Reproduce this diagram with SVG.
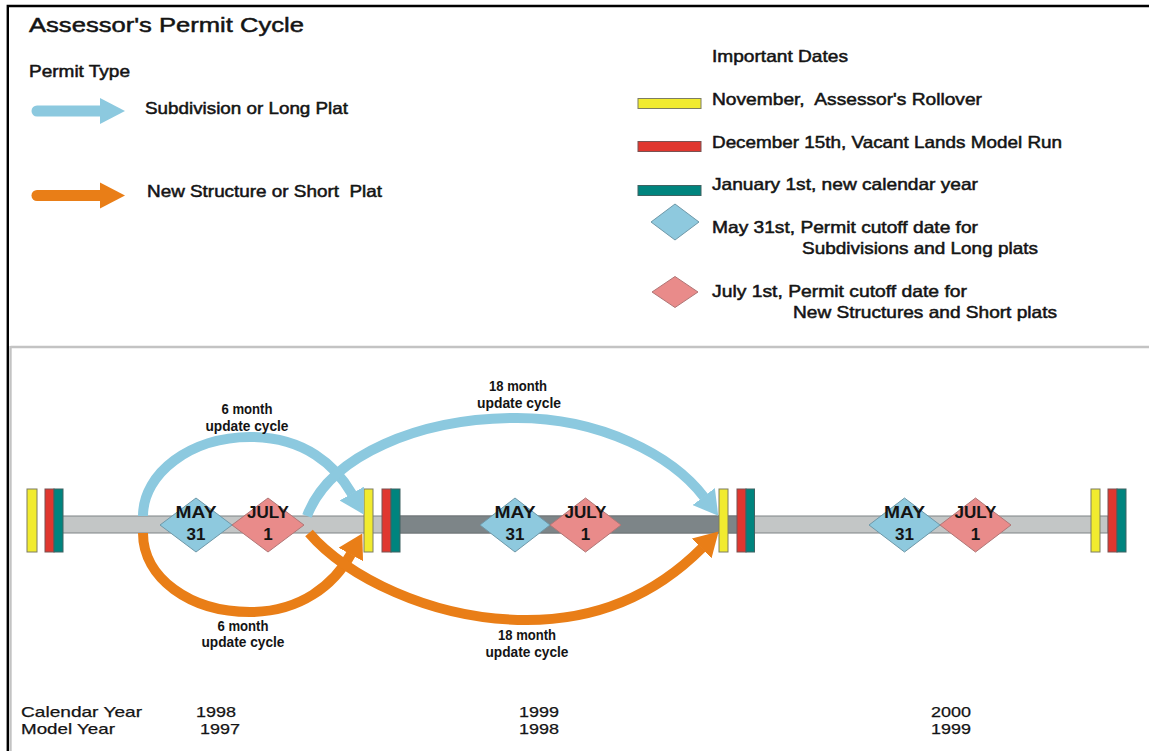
<svg xmlns="http://www.w3.org/2000/svg" width="1149" height="751" viewBox="0 0 1149 751">
<defs>
<style>
text { font-family: "Liberation Sans", Arial, sans-serif; fill: #141414; }
.title { font-size: 21px; font-weight: normal; stroke: #141414; stroke-width: 0.5; }
.t { font-size: 16.5px; font-weight: normal; stroke: #141414; stroke-width: 0.5; }
.lbl { font-size: 14px; font-weight: bold; text-anchor: middle; }
.dl { font-size: 17px; font-weight: bold; text-anchor: middle; }
.yr { font-size: 15px; font-weight: normal; stroke: #141414; stroke-width: 0.25; }
.yel { fill: #f1eb2f; stroke: #7d7d62; stroke-width: 1; }
.red { fill: #e0372f; stroke: #7a5252; stroke-width: 1; }
.teal { fill: #00847e; stroke: #3f6262; stroke-width: 1; }
.dblue { fill: #8ec9de; stroke: #6e98a8; stroke-width: 1; }
.dpink { fill: #e98b8a; stroke: #b07676; stroke-width: 1; }
.arc-b { fill: none; stroke: #8cc9df; stroke-width: 10; }
.arc-o { fill: none; stroke: #e97e17; stroke-width: 10; }
.frame-k { fill: none; stroke: #000; stroke-width: 2.4; }
.frame-g { fill: none; stroke: #c3c3c3; stroke-width: 2.4; }
</style>
<marker id="hb" markerUnits="userSpaceOnUse" markerWidth="24" markerHeight="28" viewBox="0 0 24 28" refX="0.5" refY="14" orient="auto">
<path d="M0,0 L24,14 L0,28 z" fill="#8cc9df"/>
</marker>
<marker id="ho" markerUnits="userSpaceOnUse" markerWidth="24" markerHeight="28" viewBox="0 0 24 28" refX="0.5" refY="14" orient="auto">
<path d="M0,0 L24,14 L0,28 z" fill="#e97e17"/>
</marker>
</defs>

<rect x="0" y="0" width="1149" height="751" fill="#ffffff"/>

<g id="frame">
<path class="frame-k" d="M7.8,6 H1149 M7.8,4.8 V751"/>
<path class="frame-g" d="M10.5,347 H1149 M10.5,346 V751"/>
</g>

<g id="title">
<text class="title" x="29" y="31.5" textLength="275" lengthAdjust="spacingAndGlyphs">Assessor's Permit Cycle</text>
</g>

<g id="legend-permit-type">
<text class="t" x="29" y="77" textLength="101" lengthAdjust="spacingAndGlyphs">Permit Type</text>
<g id="legend-long-plat">
<line x1="37" y1="111" x2="102" y2="111" stroke="#8cc9df" stroke-width="11" stroke-linecap="round"/>
<polygon points="100,98 125,111 100,124" fill="#8cc9df"/>
<text class="t" x="145" y="114" textLength="203" lengthAdjust="spacingAndGlyphs">Subdivision or Long Plat</text>
</g>
<g id="legend-short-plat">
<line x1="37" y1="195.5" x2="102" y2="195.5" stroke="#e97e17" stroke-width="11" stroke-linecap="round"/>
<polygon points="100,182.5 125,195.5 100,208.5" fill="#e97e17"/>
<text class="t" x="147" y="197" textLength="235" lengthAdjust="spacingAndGlyphs" xml:space="preserve">New Structure or Short  Plat</text>
</g>
</g>

<g id="legend-dates">
<text class="t" x="712" y="62" textLength="136" lengthAdjust="spacingAndGlyphs">Important Dates</text>
<g id="legend-rollover">
<rect class="yel" x="638" y="98.5" width="63" height="10"/>
<text class="t" x="712" y="105" textLength="270" lengthAdjust="spacingAndGlyphs" xml:space="preserve">November,  Assessor's Rollover</text>
</g>
<g id="legend-model-run">
<rect class="red" x="638" y="141.5" width="63" height="10"/>
<text class="t" x="712" y="148" textLength="350" lengthAdjust="spacingAndGlyphs">December 15th, Vacant Lands Model Run</text>
</g>
<g id="legend-new-year">
<rect class="teal" x="638" y="185.5" width="63" height="10"/>
<text class="t" x="712" y="190" textLength="266" lengthAdjust="spacingAndGlyphs">January 1st, new calendar year</text>
</g>
<g id="legend-may31">
<polygon class="dblue" points="651,222 675,204 699,222 675,240"/>
<text class="t" x="712" y="233" textLength="266" lengthAdjust="spacingAndGlyphs">May 31st, Permit cutoff date for</text>
<text class="t" x="802" y="254" textLength="236" lengthAdjust="spacingAndGlyphs">Subdivisions and Long plats</text>
</g>
<g id="legend-july1">
<polygon class="dpink" points="652,292 675,276.5 698,292 675,307.5"/>
<text class="t" x="712" y="297" textLength="255" lengthAdjust="spacingAndGlyphs">July 1st, Permit cutoff date for</text>
<text class="t" x="793" y="318" textLength="264" lengthAdjust="spacingAndGlyphs">New Structures and Short plats</text>
</g>
</g>

<g id="timeline">
<rect x="62" y="516" width="1046" height="17" fill="#c3c6c6" stroke="#7f8486" stroke-width="1"/>
<rect x="395" y="516" width="345" height="17" fill="#7d8588" stroke="#6e7477" stroke-width="1"/>
</g>

<g id="cutoffs-1998">
<polygon class="dblue" points="160,525 196,498 232,525 196,552"/>
<polygon class="dpink" points="232,525 268,498 304,525 268,552"/>
<text class="dl" x="196" y="518" textLength="41" lengthAdjust="spacingAndGlyphs">MAY</text>
<text class="dl" x="196" y="540">31</text>
<text class="dl" x="268" y="518" textLength="42" lengthAdjust="spacingAndGlyphs">JULY</text>
<text class="dl" x="268" y="540">1</text>
</g>
<g id="cutoffs-1999">
<polygon class="dblue" points="480,525 515,498 550,525 515,552"/>
<polygon class="dpink" points="550,525 585.5,498 621,525 585.5,552"/>
<text class="dl" x="515" y="518" textLength="41" lengthAdjust="spacingAndGlyphs">MAY</text>
<text class="dl" x="515" y="540">31</text>
<text class="dl" x="585.5" y="518" textLength="42" lengthAdjust="spacingAndGlyphs">JULY</text>
<text class="dl" x="585.5" y="540">1</text>
</g>
<g id="cutoffs-2000">
<polygon class="dblue" points="869,525 904.5,498 940,525 904.5,552"/>
<polygon class="dpink" points="940,525 975.5,498 1011,525 975.5,552"/>
<text class="dl" x="904.5" y="518" textLength="41" lengthAdjust="spacingAndGlyphs">MAY</text>
<text class="dl" x="904.5" y="540">31</text>
<text class="dl" x="975.5" y="518" textLength="42" lengthAdjust="spacingAndGlyphs">JULY</text>
<text class="dl" x="975.5" y="540">1</text>
</g>

<g id="marks-1997">
<rect class="yel" x="27" y="489" width="10" height="63"/>
<rect class="red" x="45" y="489" width="9" height="63"/>
<rect class="teal" x="54" y="489" width="9" height="63"/>
</g>
<g id="marks-1998">
<rect class="yel" x="364" y="489" width="9" height="63"/>
<rect class="red" x="382" y="489" width="9" height="63"/>
<rect class="teal" x="391" y="489" width="9" height="63"/>
</g>
<g id="marks-1999">
<rect class="yel" x="719" y="489" width="9" height="63"/>
<rect class="red" x="737" y="489" width="9" height="63"/>
<rect class="teal" x="746" y="489" width="8.5" height="63"/>
</g>
<g id="marks-2000">
<rect class="yel" x="1091" y="489" width="9" height="63"/>
<rect class="red" x="1108" y="489" width="9" height="63"/>
<rect class="teal" x="1117" y="489" width="9" height="63"/>
</g>

<g id="connectors">
<path class="arc-b" marker-end="url(#hb)" d="M143,516 C143,473 191,437 250,437 C305,437 336,466 352,494"/>
<path class="arc-b" marker-end="url(#hb)" d="M307,516 C330,455 420,418 517,418 C600,418 672,455 704,497"/>
<path class="arc-o" marker-end="url(#ho)" d="M143,533 C143,578 190,612 250,612 C300,612 334,585 351,554"/>
<path class="arc-o" marker-end="url(#ho)" d="M309,533 C345,575 430,620 527,620 C610,620 665,585 702,548"/>
</g>

<g id="connector-labels">
<text class="lbl" x="247" y="414" textLength="51" lengthAdjust="spacingAndGlyphs">6 month</text>
<text class="lbl" x="247" y="431" textLength="83" lengthAdjust="spacingAndGlyphs">update cycle</text>
<text class="lbl" x="518" y="391" textLength="58" lengthAdjust="spacingAndGlyphs">18 month</text>
<text class="lbl" x="519" y="408" textLength="84" lengthAdjust="spacingAndGlyphs">update cycle</text>
<text class="lbl" x="243" y="631" textLength="51" lengthAdjust="spacingAndGlyphs">6 month</text>
<text class="lbl" x="243" y="647" textLength="83" lengthAdjust="spacingAndGlyphs">update cycle</text>
<text class="lbl" x="527" y="640" textLength="58" lengthAdjust="spacingAndGlyphs">18 month</text>
<text class="lbl" x="527" y="657" textLength="83" lengthAdjust="spacingAndGlyphs">update cycle</text>
</g>

<g id="years">
<text class="yr" x="21" y="717" textLength="121" lengthAdjust="spacingAndGlyphs">Calendar Year</text>
<text class="yr" x="21" y="734" textLength="94" lengthAdjust="spacingAndGlyphs">Model Year</text>
<text class="yr" x="196" y="717" textLength="40" lengthAdjust="spacingAndGlyphs">1998</text>
<text class="yr" x="200" y="734" textLength="40" lengthAdjust="spacingAndGlyphs">1997</text>
<text class="yr" x="519" y="717" textLength="40" lengthAdjust="spacingAndGlyphs">1999</text>
<text class="yr" x="519" y="734" textLength="40" lengthAdjust="spacingAndGlyphs">1998</text>
<text class="yr" x="931" y="717" textLength="40" lengthAdjust="spacingAndGlyphs">2000</text>
<text class="yr" x="931" y="734" textLength="40" lengthAdjust="spacingAndGlyphs">1999</text>
</g>
</svg>
